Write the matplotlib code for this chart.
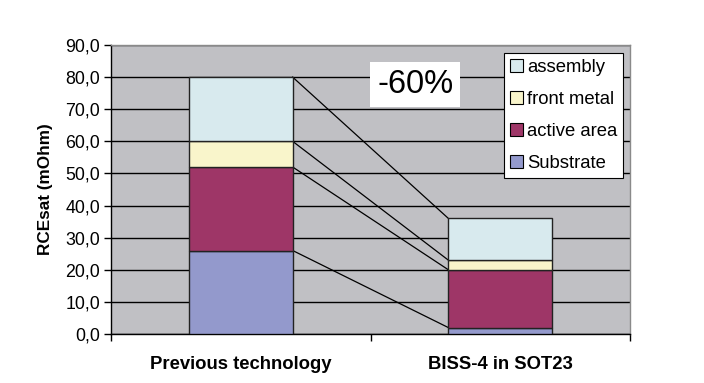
import matplotlib
matplotlib.use("Agg")
import matplotlib.pyplot as plt
import numpy as np
from matplotlib.patches import Rectangle

categories = ["Previous technology", "BISS-4 in SOT23"]
series_names = ["Substrate", "active area", "front metal", "assembly"]
substrate = [26.0, 2.0]
active_area = [26.0, 18.0]
front_metal = [8.0, 3.0]
assembly = [20.0, 13.0]
colors = ["#9399CC", "#9E3667", "#F9F5CB", "#D8EAEE"]
yticks = [0, 10, 20, 30, 40, 50, 60, 70, 80, 90]
ytick_labels = ["0,0", "10,0", "20,0", "30,0", "40,0", "50,0", "60,0", "70,0", "80,0", "90,0"]
annotation = "-60%"

plt.rcParams['font.family'] = ['Liberation Sans', 'DejaVu Sans']

fig = plt.figure(figsize=(7.04, 3.83), dpi=100)
ax = fig.add_axes([111/704, 1-334/383, 519/704, 289/383])
ax.set_facecolor("#C0C0C4")

x = np.arange(len(categories))
width = 0.4
series = [substrate, active_area, front_metal, assembly]
bottom = np.zeros(len(categories))
tops = []
for vals, col in zip(series, colors):
    vals = np.array(vals)
    ax.bar(x, vals, width, bottom=bottom, color=col, edgecolor="#222222", linewidth=1.0, zorder=3)
    bottom = bottom + vals
    tops.append(bottom.copy())

# series lines connecting segment tops
for t in tops:
    ax.plot([x[0] + width/2, x[1] - width/2], [t[0], t[1]], color="black", linewidth=0.9, zorder=2)

ax.set_xlim(-0.5, 1.5)
ax.set_ylim(0, 90)
ax.set_yticks(yticks)
ax.set_yticklabels(ytick_labels, fontsize=12.8)
ax.yaxis.grid(True, color="black", linewidth=1.0, zorder=0)
ax.set_axisbelow(True)
ax.set_xticks(x)
ax.set_xticklabels(categories, fontsize=13.3, fontweight="bold")
ax.set_xticks([-0.5, 0.5, 1.5], minor=True)
ax.tick_params(axis="x", which="major", length=0, pad=16)
ax.tick_params(axis="x", which="minor", length=5, width=1, color="black")
ax.tick_params(axis="y", length=5, width=1, direction="out", pad=3)
ax.set_ylabel("RCEsat (mOhm)", fontsize=12.3, fontweight="bold", labelpad=9)

for s in ["left", "bottom"]:
    ax.spines[s].set_color("black")
    ax.spines[s].set_linewidth(1.0)
for s in ["top", "right"]:
    ax.spines[s].set_color("#8A8A8A")
    ax.spines[s].set_linewidth(1.0)

handles = [Rectangle((0, 0), 1, 1, facecolor=c, edgecolor="black", linewidth=0.8) for c in colors]
leg = ax.legend(handles[::-1], series_names[::-1], loc="upper right", bbox_to_anchor=(0.987, 0.972),
                fontsize=13.3, frameon=True, fancybox=False, edgecolor="black", framealpha=1,
                handlelength=0.7, handleheight=0.7, handletextpad=0.2, labelspacing=0.8,
                borderpad=0.33, borderaxespad=0)
leg.get_frame().set_linewidth(0.8)
leg.set_zorder(5)

ax.text(0.586, 0.863, annotation, transform=ax.transAxes, fontsize=23.5, ha="center", va="center",
        bbox=dict(facecolor="white", edgecolor="none", pad=5), zorder=5)

fig.savefig("out.png", dpi=100)
